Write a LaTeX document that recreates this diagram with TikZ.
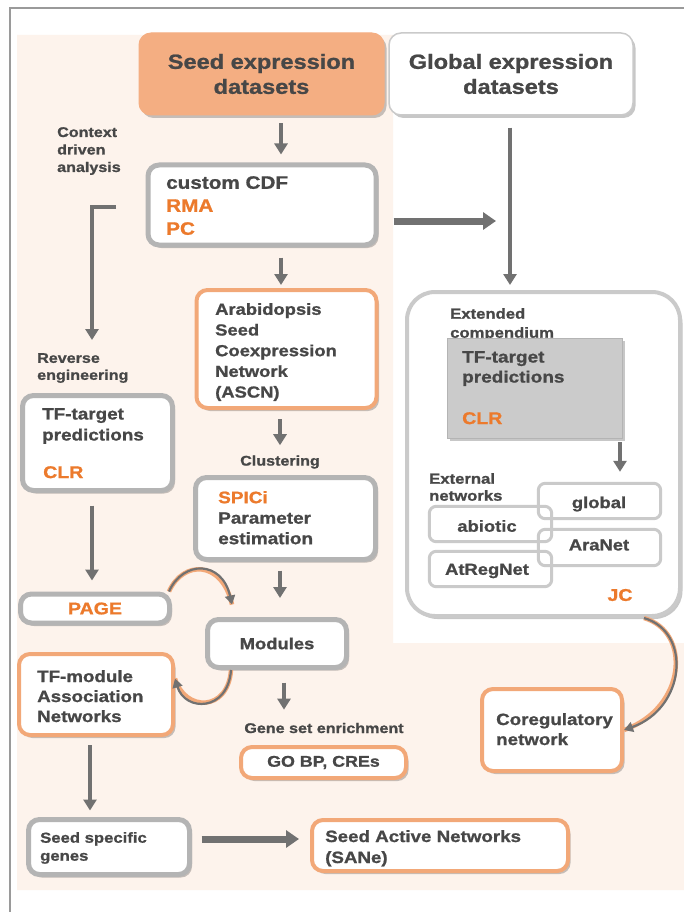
\documentclass[tikz,border=0pt]{standalone}
\usepackage{fontspec}
\setmainfont{Liberation Sans}[FakeStretch=1.15, BoldFeatures={FakeBold=1.1}]
\usetikzlibrary{arrows.meta,shadows,calc}
\definecolor{peach}{HTML}{FDF3EC}
\definecolor{seedfill}{HTML}{F4AE82}
\definecolor{orangeT}{HTML}{EC7A2C}
\definecolor{orangeB}{HTML}{F2A878}
\definecolor{grayB}{HTML}{B4B4B4}
\definecolor{lgrayB}{HTML}{CACACA}
\definecolor{darkT}{HTML}{474747}
\definecolor{arrG}{HTML}{717171}
\definecolor{boxG}{HTML}{CBCBCB}
\definecolor{frameG}{HTML}{9A9A9A}
\newcommand\myfs[2]{\fontsize{#1}{#2}\selectfont\bfseries}
\begin{document}
\begin{tikzpicture}[x=1pt,y=-1pt,
  every node/.style={inner sep=0pt, text=darkT},
  shad/.style={drop shadow={shadow xshift=2.5pt,shadow yshift=-3pt,opacity=0.22,fill=black}},
  gbox/.style={draw=grayB, line width=5pt, fill=white, rounded corners=11pt, shad},
  obox/.style={draw=orangeB, line width=4pt, fill=white, rounded corners=11pt, shad},
  nbox/.style={draw=lgrayB, line width=3pt, rounded corners=7pt},
  lab/.style={anchor=north west, align=left},
  arr/.style={draw=arrG, line width=4.5pt, -{Triangle[width=13pt,length=11pt]}},
  warr/.style={draw=arrG, line width=7pt, -{Triangle[width=17pt,length=13pt]}},
  carr/.style={draw=arrG, line width=2.2pt, -{Triangle[width=10pt,length=9pt]}, preaction={draw=orangeB, line width=4.5pt, -}}
]
\useasboundingbox (0,0) rectangle (684,912);
\fill[white] (0,0) rectangle (684,912);
% background
\fill[peach] (17,35) -- (393,35) -- (393,643) -- (684,643) -- (684,890) -- (17,890) -- cycle;
\draw[frameG, line width=1.2pt] (10,912) -- (10,8) -- (684,8);

% top boxes
\node[draw=seedfill, line width=1pt, fill=seedfill, rounded corners=12pt, shad,
      minimum width=245pt, minimum height=82pt, align=center, font=\myfs{20.5}{25}] (seed) at (261.5,74) {Seed expression\\datasets};
\node[draw=lgrayB, line width=1.5pt, fill=white, rounded corners=12pt, shad,
      minimum width=244pt, minimum height=82pt, align=center, font=\myfs{20.5}{25}] (global) at (511,74) {Global expression\\datasets};

% left column
\node[gbox, minimum width=228pt, minimum height=80pt] (cdf) at (262,205) {};
\node[lab, font=\myfs{18}{23}] (cdft) at (166,176) {custom CDF\\\textcolor{orangeT}{RMA}\\\textcolor{orangeT}{PC}};
\node[lab, font=\myfs{14}{17.5}] (ctx) at (57,127) {Context\\driven\\analysis};

\node[obox, minimum width=180pt, minimum height=118pt] (ascn) at (286.5,349) {};
\node[lab, font=\myfs{16}{20.7}] (ascnt) at (215,303) {Arabidopsis\\Seed\\Coexpression\\Network\\(ASCN)};

\node[lab, font=\myfs{14}{17}] (rev) at (37,353) {Reverse\\engineering};
\node[gbox, minimum width=150pt, minimum height=95pt] (tfl) at (97.5,443) {};
\node[lab, font=\myfs{16.4}{21}] (tflt) at (42,408) {TF-target\\predictions};
\node[lab, font=\myfs{17}{20}, text=orangeT] (tflc) at (43,466) {CLR};

\node[font=\myfs{14}{17}] (clust) at (280,462) {Clustering};
\node[gbox, minimum width=180pt, minimum height=82pt] (spici) at (285.5,518.5) {};
\node[lab, font=\myfs{16.5}{20.5}] (spicit) at (218,491) {\textcolor{orangeT}{SPICi}\\Parameter\\estimation};

\node[gbox, minimum width=149pt, minimum height=29pt, font=\myfs{17}{20}, text=orangeT] (page) at (95,608.5) {PAGE};
\node[gbox, minimum width=139pt, minimum height=48pt, font=\myfs{16}{20}] (modules) at (277,643.5) {Modules};

\node[obox, minimum width=154pt, minimum height=81pt] (tfm) at (96,694.5) {};
\node[lab, font=\myfs{16.3}{20}] (tfmt) at (37,670) {TF-module\\Association\\Networks};

\node[font=\myfs{14}{17}] (gse) at (324,728) {Gene set enrichment};
\node[obox, minimum width=165pt, minimum height=31pt, font=\myfs{15.5}{19}] (gobp) at (323.5,762.5) {GO BP, CREs};

\node[gbox, minimum width=161pt, minimum height=55pt] (ssg) at (109,847) {};
\node[lab, font=\myfs{14.5}{18}] (ssgt) at (40,832) {Seed specific\\genes};
\node[obox, minimum width=256pt, minimum height=51pt] (sane) at (440,845.5) {};
\node[lab, font=\myfs{16.3}{21}] (sanet) at (325,830) {Seed Active Networks\\(SANe)};

\node[obox, minimum width=140pt, minimum height=82pt] (coreg) at (552,730) {};
\node[lab, font=\myfs{16.3}{20}] (coregt) at (496,713) {Coregulatory\\network};

% extended compendium
\node[draw=lgrayB, line width=4pt, fill=white, rounded corners=28pt, shad,
      minimum width=273pt, minimum height=324pt] (ext) at (543.5,454) {};
\node[lab, font=\myfs{14.5}{19}] (extt) at (450,308) {Extended\\compendium};
\node[draw=grayB, line width=0.8pt, fill=boxG, shad, minimum width=175pt, minimum height=100pt] (tfx) at (534.5,388) {};
\node[lab, font=\myfs{16.5}{20}] (tfxt) at (462,351) {TF-target\\predictions};
\node[lab, font=\myfs{17}{20}, text=orangeT] (tfxc) at (462,412) {CLR};
\node[lab, font=\myfs{14.5}{17}] (extn) at (429,473) {External\\networks};

\node[minimum width=122pt, minimum height=35pt, fill=white] (glob) at (599.5,501) {};
\node[minimum width=122pt, minimum height=36pt, fill=white] (aranet) at (599.5,547.5) {};
\node[minimum width=122pt, minimum height=35pt, fill=white] (abiotic) at (490.5,524) {};
\node[minimum width=122pt, minimum height=35pt, fill=white] (atreg) at (490.5,569) {};
\draw[nbox] (glob.south west) rectangle (glob.north east);
\draw[nbox] (aranet.south west) rectangle (aranet.north east);
\draw[nbox] (abiotic.south west) rectangle (abiotic.north east);
\draw[nbox] (atreg.south west) rectangle (atreg.north east);
\node[font=\myfs{16}{20}] (globt) at (599,504) {global};
\node[font=\myfs{16}{20}] (aranett) at (599,545) {AraNet};
\node[font=\myfs{16}{20}] (abiotict) at (487,526) {abiotic};
\node[font=\myfs{16}{20}] (atregt) at (487,571) {AtRegNet};
\node[font=\myfs{17}{20}, text=orangeT] (jc) at (620,595) {JC};

% straight arrows
\draw[arr, shorten <=8pt, shorten >=8pt] ([xshift=19.5pt]seed.south) -- ([xshift=19.5pt]seed.south |- cdf.north);
\draw[arr, shorten <=10pt, shorten >=3pt] ([xshift=19pt]cdf.south) -- ([xshift=19pt]cdf.south |- ascn.north);
\draw[arr, shorten <=9pt, shorten >=10pt] (clust.north |- ascn.south) -- (clust.north);
\coordinate (m1) at ($(modules.north)+(3,0)$);
\draw[arr, shorten <=8.5pt, shorten >=19pt] (m1 |- spici.south) -- (m1);
\draw[arr, shorten <=12.5pt, shorten >=13pt] ([xshift=7pt]modules.south) -- ([xshift=7pt]modules.south |- gse.north);
\draw[arr, shorten <=12.5pt, shorten >=11pt] ([xshift=-5.5pt]tfl.south) -- ([xshift=-5.5pt]tfl.south |- page.north);
\draw[arr, shorten <=8pt, shorten >=6.5pt] ([xshift=-6pt]tfm.south) -- ([xshift=-6pt]tfm.south |- ssg.north);
\draw[warr, shorten <=9.5pt, shorten >=11pt] ([yshift=8pt]ssg.east) -- ([yshift=8pt]ssg.east -| sane.west);
\coordinate (cdfr) at (496,221);
\draw[warr, shorten <=15pt] (cdfr -| cdf.east) -- (cdfr);
\draw[arr, shorten <=12pt, shorten >=5pt] ([xshift=-1pt]global.south) -- ([xshift=-1pt]global.south |- ext.north);
\coordinate (el) at (116,207);
\coordinate (elend) at (92,340);
\draw[arr] (el) -| (elend);
\coordinate (gx) at (620,0);
\draw[arr, shorten <=4pt, shorten >=11.5pt] (gx |- tfx.south) -- (gx |- glob.north);

% curved arrows
\draw[carr] ([xshift=-3pt]page.north east) .. controls (183,560) and (222,560) .. ([xshift=-45pt,yshift=12.5pt]modules.north);
\draw[carr] ([xshift=-46pt]modules.south) .. controls (228,712) and (185,712) .. ([yshift=16pt]tfm.east);
\draw[carr] ([xshift=-38pt]ext.south east) .. controls (692,632) and (686,708) .. (coreg.east);
\end{tikzpicture}
\end{document}
